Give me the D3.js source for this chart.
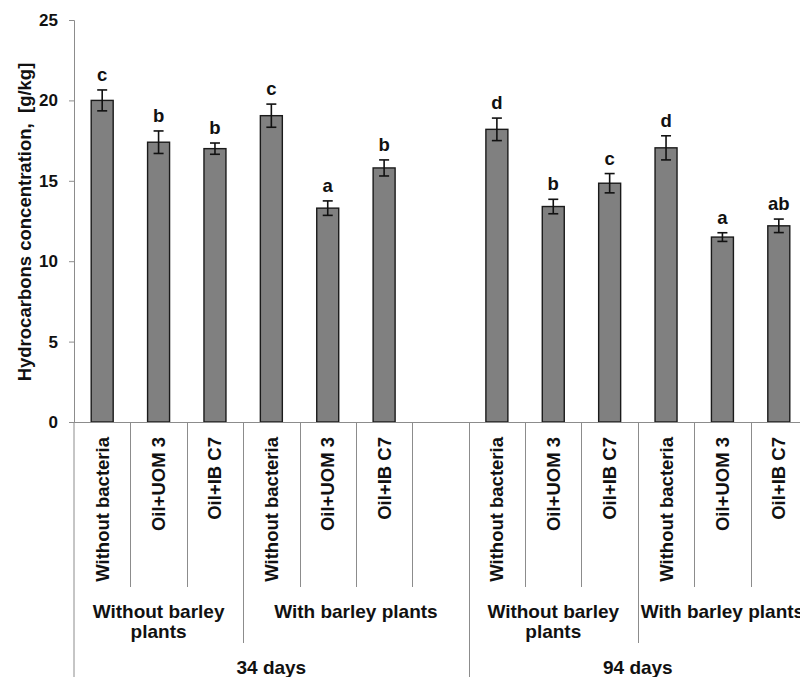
<!DOCTYPE html>
<html>
<head>
<meta charset="utf-8">
<script src="https://cdn.jsdelivr.net/npm/d3@7"></script>
<style>
  html, body { margin: 0; padding: 0; background: #fff; }
  svg { display: block; font-family: "Liberation Sans", Arial, sans-serif; font-weight: bold; }
</style>
</head>
<body>
<svg id="chart" width="800" height="677"></svg>
<script>
// Category slots (one empty slot separates the two sampling dates)
const treatments = ["Without bacteria", "Oil+UOM 3", "Oil+IB C7",
                    "Without bacteria", "Oil+UOM 3", "Oil+IB C7", "",
                    "Without bacteria", "Oil+UOM 3", "Oil+IB C7",
                    "Without bacteria", "Oil+UOM 3", "Oil+IB C7"];
const plantGroups = ["Without barley plants", "Without barley plants", "Without barley plants",
                     "With barley plants", "With barley plants", "With barley plants", "With barley plants",
                     "Without barley plants", "Without barley plants", "Without barley plants",
                     "With barley plants", "With barley plants", "With barley plants"];
const periods = ["34 days", "34 days", "34 days", "34 days", "34 days", "34 days", "34 days",
                 "94 days", "94 days", "94 days", "94 days", "94 days", "94 days"];

// Hydrocarbon concentration, g/kg (null = empty slot)
const values = [20.0, 17.4, 17.0, 19.05, 13.3, 15.8, null,
                18.2, 13.4, 14.85, 17.05, 11.5, 12.2];
const errors = [0.65, 0.7, 0.35, 0.72, 0.45, 0.5, null,
                0.7, 0.45, 0.6, 0.75, 0.27, 0.42];
const letters = ["c", "b", "b", "c", "a", "b", "",
                 "d", "b", "c", "d", "a", "ab"];

const yTicks = [0, 5, 10, 15, 20, 25];

const svg = d3.select("#chart");
const axisColor = "#8c8c8c";

const plotLeft = 74, plotTop = 20, baseY = 422;
const plotRight = 807;

const slots = d3.range(treatments.length);
const x = d3.scaleBand().domain(slots).range([plotLeft, plotRight]).padding(0);
const y = d3.scaleLinear().domain([0, 25]).range([baseY, plotTop]);

// Bars
const barW = x.bandwidth() * 0.39;
const data = slots.filter(i => values[i] != null);

svg.append("g").selectAll("rect")
  .data(data)
  .join("rect")
  .attr("x", i => x(i) + (x.bandwidth() - barW) / 2)
  .attr("y", i => y(values[i]))
  .attr("width", barW)
  .attr("height", i => y(0) - y(values[i]))
  .attr("fill", "#808080")
  .attr("stroke", "#1a1a1a")
  .attr("stroke-width", 1.4);

// Error bars
const eb = svg.append("g").attr("stroke", "#111").attr("stroke-width", 1.6);
data.forEach(i => {
  const cx = x(i) + x.bandwidth() / 2;
  const hi = y(values[i] + errors[i]), lo = y(values[i] - errors[i]);
  eb.append("line").attr("x1", cx).attr("x2", cx).attr("y1", hi).attr("y2", lo);
  eb.append("line").attr("x1", cx - 5).attr("x2", cx + 5).attr("y1", hi).attr("y2", hi);
  eb.append("line").attr("x1", cx - 5).attr("x2", cx + 5).attr("y1", lo).attr("y2", lo);
});

// Significance letters
svg.append("g").selectAll("text")
  .data(data)
  .join("text")
  .attr("x", i => x(i) + x.bandwidth() / 2)
  .attr("y", i => y(values[i] + errors[i]) - 9)
  .attr("text-anchor", "middle")
  .attr("font-size", 18.5)
  .attr("fill", "#111")
  .text(i => letters[i]);

// Y axis
const yAxis = svg.append("g")
  .attr("transform", `translate(${plotLeft},0)`)
  .call(d3.axisLeft(y).tickValues(yTicks).tickSize(5).tickPadding(11).tickSizeOuter(5));
yAxis.selectAll("path, line").attr("stroke", axisColor);
yAxis.selectAll("text").attr("font-size", 17).attr("font-family", "Liberation Sans, Arial, sans-serif")
  .attr("font-weight", "bold").attr("fill", "#111");

// Y axis extends down through the category table
svg.append("line").attr("x1", plotLeft).attr("x2", plotLeft).attr("y1", baseY).attr("y2", 677)
  .attr("stroke", axisColor).attr("stroke-width", 1);

// Baseline
svg.append("line").attr("x1", plotLeft).attr("x2", plotRight).attr("y1", baseY + 0.5).attr("y2", baseY + 0.5)
  .attr("stroke", axisColor).attr("stroke-width", 1.2);

svg.append("text")
  .attr("transform", `translate(31,${(plotTop + baseY) / 2 + 1}) rotate(-90)`)
  .attr("text-anchor", "middle")
  .attr("font-size", 18.5)
  .attr("fill", "#111")
  .attr("xml:space", "preserve")
  .text("Hydrocarbons concentration,  [g/kg]");

// Multi-level category axis
const lvl1Bottom = 587, lvl2Bottom = 643, lvl3Bottom = 677;
const sep = svg.append("g").attr("stroke", axisColor).attr("stroke-width", 1);
slots.forEach(i => {
  if (i === 0) return;
  const bx = Math.round(x(i)) + 0.5;
  let bottom = lvl1Bottom;
  if (periods[i] !== periods[i - 1]) bottom = lvl3Bottom;
  else if (plantGroups[i] !== plantGroups[i - 1]) bottom = lvl2Bottom;
  sep.append("line").attr("x1", bx).attr("x2", bx).attr("y1", baseY).attr("y2", bottom);
});

// Level 1: treatment labels (rotated)
svg.append("g").selectAll("text")
  .data(slots.filter(i => treatments[i]))
  .join("text")
  .attr("transform", i => `translate(${x(i) + x.bandwidth() / 2 + 6.5},437) rotate(-90)`)
  .attr("text-anchor", "end")
  .attr("font-size", 18.5)
  .attr("fill", "#111")
  .text(i => treatments[i]);

// Group runs of identical consecutive labels within a sampling date
function runs(arr) {
  const out = [];
  arr.forEach((v, i) => {
    const last = out[out.length - 1];
    if (last && last.label === v && periods[i] === periods[last.start]) last.end = i;
    else out.push({ label: v, start: i, end: i });
  });
  return out;
}

// Level 2: plant groups, wrapped to the group width
const lvl2 = svg.append("g");
runs(plantGroups).forEach(g => {
  const x0 = x(g.start), x1 = x(g.end) + x.bandwidth();
  const cx = (x0 + x1) / 2, w = x1 - x0;
  const t = lvl2.append("text").attr("x", cx).attr("y", 618).attr("text-anchor", "middle")
    .attr("font-size", 19).attr("fill", "#111");
  t.text(g.label);
  if (t.node().getComputedTextLength() > w) {
    const words = g.label.split(" ");
    const lines = [words.slice(0, -1).join(" "), words[words.length - 1]];
    t.text(null);
    lines.forEach((ln, k) => t.append("tspan").attr("x", cx).attr("dy", k === 0 ? 0 : 19.5).text(ln));
  }
});

// Level 3: sampling dates
svg.append("g").selectAll("text")
  .data(runs(periods))
  .join("text")
  .attr("x", g => (x(g.start) + x(g.end) + x.bandwidth()) / 2)
  .attr("y", 674)
  .attr("text-anchor", "middle")
  .attr("font-size", 19)
  .attr("fill", "#111")
  .text(g => g.label);
</script>
</body>
</html>
